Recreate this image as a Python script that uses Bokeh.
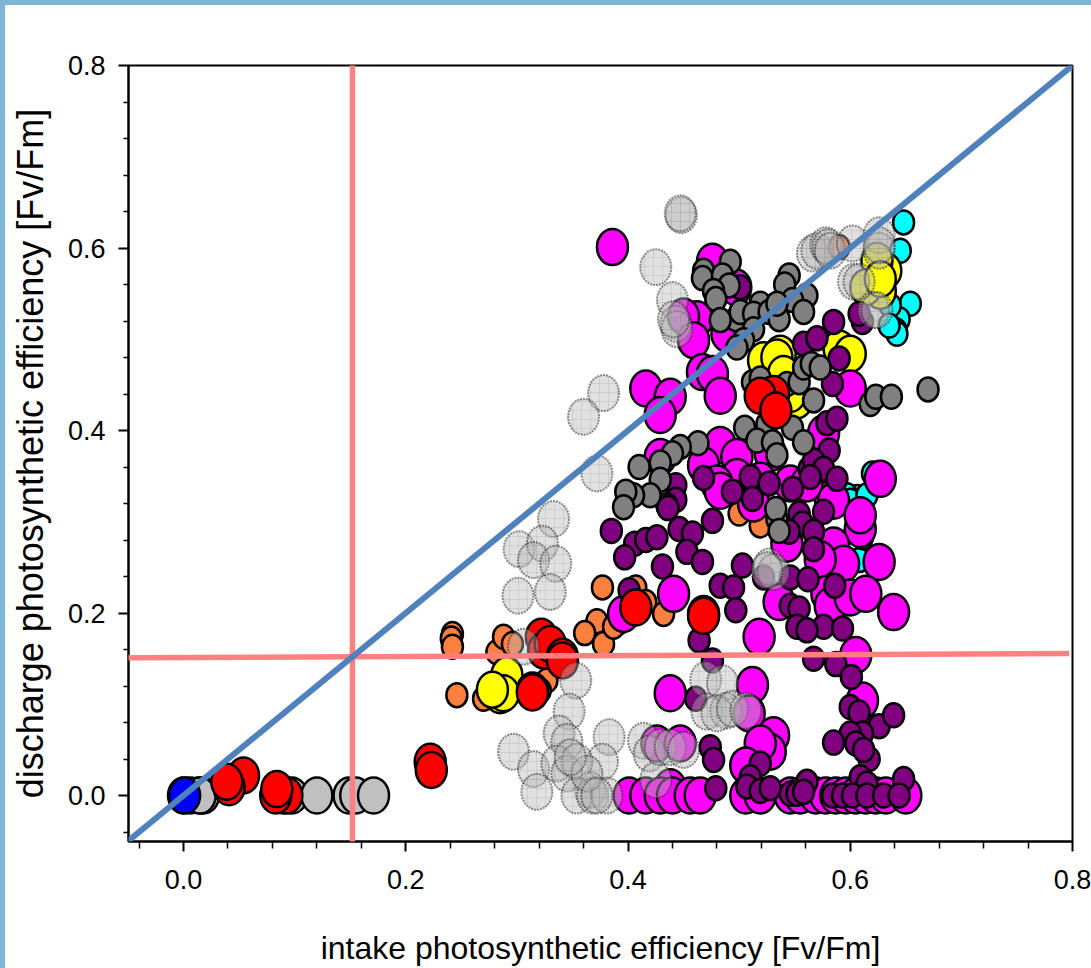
from bokeh.plotting import figure
from bokeh.models import FixedTicker, PolyAnnotation, NumeralTickFormatter, InlineStyleSheet
from bokeh.embed import file_html
from bokeh.resources import INLINE

x_ticks = [0.0, 0.2, 0.4, 0.6, 0.8]
x_minor = [-0.04, 0.04, 0.08, 0.12, 0.16, 0.24, 0.28, 0.32, 0.36, 0.44, 0.48, 0.52, 0.56, 0.64, 0.68, 0.72, 0.76]
y_ticks = [0.0, 0.2, 0.4, 0.6, 0.8]
y_minor = x_minor
x_title = "intake photosynthetic efficiency [Fv/Fm]"
y_title = "discharge photosynthetic efficiency [Fv/Fm]"

silver = [(0.006,0),(0.014,0),(0.018,0),(0.015,0),(0.090,0),(0.0975,0),(0.120,0),(0.149,0),(0.155,0),(0.171,0)]
blue = [(0.000,0),(0.001,0)]
cyan = [(.648,.628),(.645,.597),(.654,.539),(.644,.522),(.636,.537),(.641,.510),(.642,.506),(.635,.515),
        (.620,.353),(.606,.327),(.597,.329),(.608,.258),(.600,.323),(.611,.283),(.615,.329)]
orange = [(.242,.177),(.241,.172),(.242,.163),(.246,.110),(.377,.228),(.372,.191),(.361,.178),(.378,.166),
          (.282,.157),(.288,.174),(.296,.166),(.270,.106),(.327,.126),(.321,.115),(.407,.228),(.416,.212),
          (.432,.199),(.392,.190),(.387,.185),(.500,.309),(.519,.296),(.590,.601)]
yellow = [(.522,.477),(.537,.484),(.534,.480),(.540,.462),(.552,.433),(.546,.440),(.590,.490),(.600,.484),
          (.627,.579),(.632,.575),(.627,.553),(.624,.586),(.614,.557),(.627,.566),
          (.291,.132),(.285,.110),(.288,.112),(.278,.116)]
magenta = [(.386,.601),(.476,.585),(.497,.557),(.462,.522),(.450,.525),(.459,.499),(.489,.506),(.467,.464),
           (.476,.462),(.483,.438),(.416,.446),(.438,.437),(.429,.417),(.600,.446),(.483,.384),(.429,.371),
           (.468,.362),(.498,.371),(.528,.375),(.576,.397),(.498,.349),(.480,.342),(.519,.345),(.546,.342),
           (.627,.347),(.582,.325),(.561,.342),(.483,.334),(.513,.320),(.585,.323),(.609,.292),(.585,.274),
           (.609,.307),(.626,.256),(.543,.276),(.594,.254),(.573,.259),(.536,.212),(.579,.221),(.582,.208),
           (.600,.217),(.614,.221),(.639,.201),(.518,.174),(.396,.199),(.441,.221),(.605,.154),(.512,.121),
           (.438,.112),(.611,.104),(.509,.090),(.531,.066),(.528,.048),(.519,.057),(.506,.033),(.426,.057),
           (.447,.057),(.438,.009),(.401,0),(.416,0),(.429,0),(.440,0),(.456,0),(.465,0),(.506,0),(.519,0),
           (.546,0),(.555,0),(.569,0),(.578,0),(.587,0),(.596,0),(.605,0),(.614,0),(.623,0),(.632,0),(.650,0)]
purple = [(.501,.557),(.585,.519),(.611,.519),(.608,.528),(.558,.495),(.570,.501),(.590,.479),(.584,.451),
          (.579,.408),(.588,.413),(.581,.378),(.563,.358),(.567,.367),(.576,.358),(.588,.347),(.564,.349),
          (.468,.348),(.510,.349),(.527,.342),(.548,.336),(.494,.333),(.512,.325),(.443,.340),(.443,.324),
          (.435,.318),(.385,.290),(.406,.276),(.416,.280),(.397,.261),(.426,.283),(.446,.292),(.458,.287),
          (.453,.267),(.467,.256),(.476,.301),(.431,.251),(.436,.315),(.483,.230),(.495,.228),(.497,.203),
          (.503,.252),(.464,.170),(.476,.148),(.401,.225),(.554,.309),(.557,.298),(.576,.311),(.567,.289),
          (.567,.270),(.545,.289),(.546,.239),(.562,.237),(.522,.239),(.546,.208),(.554,.205),(.552,.185),
          (.576,.185),(.593,.183),(.561,.181),(.586,.230),(.567,.150),(.587,.144),(.601,.130),(.600,.097),
          (.608,.091),(.626,.076),(.639,.088),(.611,.068),(.600,.068),(.585,.058),(.605,.057),(.617,.040),
          (.612,.050),(.474,.053),(.477,.039),(.461,.106),(.519,.035),(.510,.020),(.648,.018),(.609,.020),
          (.561,.015),(.615,.013),(.479,.008),(.507,.010),(.519,.005),(.528,.008),(.546,.002),(.552,.002),
          (.558,.004),(.584,0),(.593,0),(.602,0),(.615,0),(.630,0),(.644,0)]
darkgray = [(.492,.585),(.468,.575),(.467,.567),(.485,.570),(.491,.559),(.477,.553),(.479,.544),(.497,.522),
            (.483,.521),(.501,.530),(.519,.539),(.513,.528),(.527,.530),(.513,.511),(.504,.499),(.498,.491),
            (.536,.522),(.545,.570),(.541,.560),(.561,.548),(.548,.543),(.558,.530),(.534,.539),(.512,.453),
            (.519,.457),(.543,.451),(.554,.453),(.558,.469),(.565,.473),(.573,.469),(.567,.433),(.618,.429),
            (.623,.437),(.637,.437),(.670,.445),(.505,.403),(.525,.407),(.548,.403),(.558,.387),(.516,.389),
            (.530,.387),(.534,.373),(.463,.386),(.447,.382),(.440,.375),(.410,.360),(.429,.365),(.429,.346),
            (.420,.329),(.405,.329),(.398,.333),(.396,.316),(.534,.303),(.533,.314),(.536,.290)]
red = [(.222,.037),(.223,.028),(.322,.174),(.324,.159),(.330,.166),(.341,.152),(.341,.148),(.314,.115),
       (.314,.113),(.407,.206),(.468,.199),(.468,.197),(.531,.440),(.519,.438),(.533,.422),
       (.054,.022),(.041,.009),(.039,.015),(.093,0),(.083,0),(.084,.007)]
lightgray = [(.448,.636),(.447,.638),(.425,.579),(.440,.543),(.443,.517),(.444,.511),(.441,.522),(.378,.441),
             (.360,.415),(.372,.353),(.566,.594),(.570,.597),(.578,.603),(.580,.601),(.582,.597),(.602,.605),
             (.626,.614),(.626,.597),(.626,.603),(.603,.563),(.608,.563),(.621,.532),(.624,.532),
             (.333,.303),(.302,.270),(.323,.276),(.315,.258),(.335,.254),(.301,.219),(.330,.223),(.353,.126),
             (.347,.092),(.338,.068),(.345,.059),(.383,.064),(.297,.048),(.315,.029),(.336,.035),(.345,.024),
             (.377,.037),(.354,.037),(.318,.004),(.366,.006),(.354,0),(.368,0),(.381,0),(.363,.024),(.348,.042),
             (.306,.163),(.470,.127),(.485,.123),(.471,.092),(.488,.093),(.480,.090),(.494,.095),(.506,.093),
             (.527,.251),(.531,.245),(.525,.247),(.414,.060),(.419,.046),(.425,.017),(.429,.053),(.438,.053),
             (.450,.050),(.372,0)]

identity_line = ([-0.05, 0.8056], [-0.05, 0.8056])
v_threshold = ([0.152, 0.152], [-0.053, 0.805])
h_threshold = ([-0.05, 0.797], [0.151, 0.1556])

frame_band = InlineStyleSheet(css="""
:host { position: relative; }
:host::before { content: ""; position: absolute; left: 0; top: 0; width: 5px; height: 968px; background: #7fb6d6; z-index: 10; }
:host::after { content: ""; position: absolute; left: 0; top: 0; width: 1091px; height: 5px; background: #7fb6d6; z-index: 10; }
""")

p = figure(width=1091, height=968, output_backend="svg", toolbar_location=None,
           x_range=(-0.0495, 0.8), y_range=(-0.0504, 0.8),
           min_border_left=128, min_border_right=19, min_border_top=65, min_border_bottom=127,
           x_axis_label=x_title, y_axis_label=y_title, background_fill_color="white",
           border_fill_color="white", stylesheets=[frame_band])
p.grid.visible = False
p.outline_line_color = "black"
p.outline_line_width = 2

p.xaxis.ticker = FixedTicker(ticks=x_ticks, minor_ticks=x_minor)
p.yaxis.ticker = FixedTicker(ticks=y_ticks, minor_ticks=y_minor)
for ax in (p.xaxis[0], p.yaxis[0]):
    ax.formatter = NumeralTickFormatter(format="0.0")
    ax.axis_line_color = "black"
    ax.axis_line_width = 2
    ax.major_tick_line_color = "black"
    ax.major_tick_line_width = 2
    ax.minor_tick_line_color = "black"
    ax.minor_tick_line_width = 1.5
    ax.major_tick_in = 0
    ax.minor_tick_in = 0
    ax.major_tick_out = 10
    ax.major_label_text_font = "Liberation Sans"
    ax.major_label_text_font_size = "27px"
    ax.major_label_text_color = "black"
    ax.axis_label_text_font = "Liberation Sans"
    ax.axis_label_text_font_style = "normal"
    ax.axis_label_text_color = "black"
p.xaxis[0].axis_label_text_font_size = "32px"
p.yaxis[0].axis_label_text_font_size = "36px"
p.xaxis[0].minor_tick_out = 7
p.yaxis[0].minor_tick_out = 5
p.xaxis[0].major_label_standoff = 18
p.yaxis[0].major_label_standoff = 13
p.xaxis[0].axis_label_standoff = 38
p.yaxis[0].axis_label_standoff = 14


def draw(points, w, h, fill):
    p.ellipse([a for a, _ in points], [b for _, b in points], width=w, height=h,
              width_units="screen", height_units="screen",
              fill_color=fill, line_color="black", line_width=2.5)


draw(silver, 31, 36, "#c0c0c0")
draw(blue, 31, 36, "#0000ff")
draw(cyan, 21, 24, "#00ffff")
draw(orange, 21, 24, "#ff7f3f")
draw(yellow, 31, 36, "#ffff00")
draw(magenta, 31, 36, "#ff00ff")
draw(purple, 21, 24, "#800080")
draw(darkgray, 21, 24, "#808080")
draw(red, 31, 36, "#ff0000")
p.ellipse([a for a, _ in lightgray], [b for _, b in lightgray], width=31, height=36,
          width_units="screen", height_units="screen",
          fill_color="#b4b4b4", fill_alpha=0.42, line_color="#222222", line_alpha=0.5,
          line_width=2, line_dash="2 1", hatch_pattern="cross", hatch_color="#8c8c8c",
          hatch_alpha=0.2, hatch_scale=9, hatch_weight=1)

for (xs, ys), col, lw in ((v_threshold, "#ff8080", 5.5), (h_threshold, "#ff8080", 5.5), (identity_line, "#4f81bd", 6)):
    p.add_layout(PolyAnnotation(xs=xs, ys=ys, xs_units="data", ys_units="data", fill_alpha=0,
                                line_color=col, line_alpha=1, line_width=lw, level="overlay"))

open("out.html", "w").write(file_html(p, INLINE))
